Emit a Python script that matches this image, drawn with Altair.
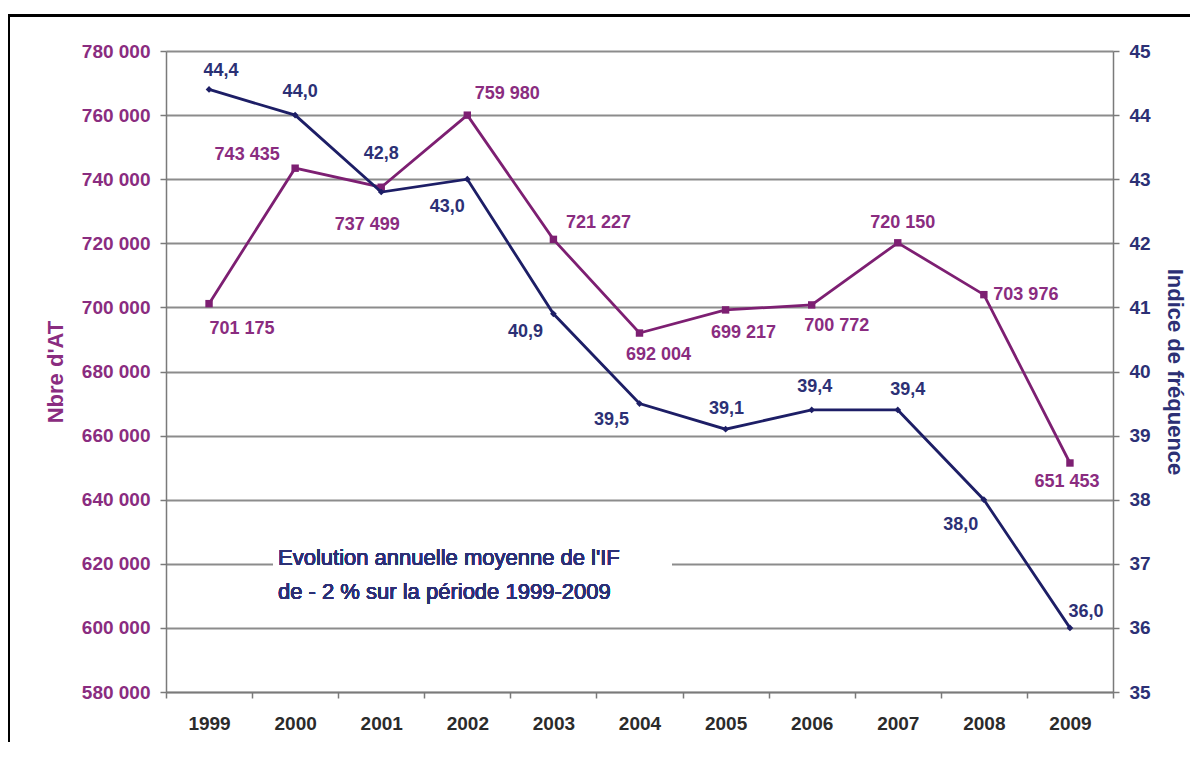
import altair as alt
import pandas as pd

# ---------------- data ----------------
years = ["1999", "2000", "2001", "2002", "2003", "2004", "2005", "2006", "2007", "2008", "2009"]
nb_at = [701175, 743435, 737499, 759980, 721227, 692004, 699217, 700772, 720150, 703976, 651453]
indice_freq = [44.4, 44.0, 42.8, 43.0, 40.9, 39.5, 39.1, 39.4, 39.4, 38.0, 36.0]
left_ticks = [580000, 600000, 620000, 640000, 660000, 680000, 700000,
              720000, 740000, 760000, 780000]
right_ticks = [35, 36, 37, 38, 39, 40, 41, 42, 43, 44, 45]
annotation_lines = ["Evolution annuelle moyenne de l'IF",
                    "de - 2 % sur la période 1999-2009"]

df = pd.DataFrame({"annee": years, "at": nb_at, "indice": indice_freq})

# ---------------- styles ----------------
PURPLE = "#7d1f72"
PURPLE_TXT = "#8a2c80"
NAVY = "#1d1e66"
NAVY_TXT = "#2c3075"
GRID = "#8c8c8c"
AXIS = "#7a7a7a"
FONT = "Liberation Sans"

# label offsets (pixels) relative to each point, per year
at_label_offsets = [(33, 25), (-48, -13), (-14, 38), (40, -21), (45, -16), (19, 22),
                    (18, 23), (25, 21), (5, -20), (42, 0), (-3, 19)]
if_label_offsets = [(12, -18), (5, -23), (0, -38), (-20, 28), (-28, 18), (-28, 16),
                    (1, -20), (3, -23), (10, -20), (-23, 25), (16, -16)]

W, H = 947, 641

x_enc = alt.X(
    "annee:O",
    sort=years,
    scale=alt.Scale(type="band", paddingInner=0, paddingOuter=0),
    axis=alt.Axis(title=None, labelAngle=0, tickBand="extent", grid=False,
                  domainColor=AXIS, domainWidth=1.5, tickColor=AXIS, tickWidth=1.5,
                  tickSize=6, labelPadding=16, labelColor="#2b2b2b", labelFontSize=19),
)

y_at = alt.Y(
    "at:Q",
    scale=alt.Scale(domain=[580000, 780000], nice=False, zero=False),
    axis=alt.Axis(values=left_ticks, format=",d", title="Nbre d'AT", orient="left",
                  titleColor=PURPLE_TXT, labelColor=PURPLE_TXT, grid=True,
                  gridColor=GRID, gridWidth=1.8, domainColor=AXIS, domainWidth=1.5,
                  tickColor=AXIS, tickWidth=1.5, tickSize=6, labelPadding=10,
                  labelFontSize=19, titleFontSize=22, titlePadding=14),
)

y_if = alt.Y(
    "indice:Q",
    scale=alt.Scale(domain=[35, 45], nice=False, zero=False),
    axis=alt.Axis(values=right_ticks, format="d", title="Indice de fréquence",
                  orient="right", titleColor=NAVY_TXT, labelColor=NAVY_TXT, grid=False,
                  domainColor=AXIS, domainWidth=1.5, tickColor=AXIS, tickWidth=1.5,
                  tickSize=6, labelPadding=10, labelFontSize=19, titleFontSize=22,
                  titlePadding=12),
)

base = alt.Chart(df)

# ---- frame & annotation (decoration) ----
frame_left = base.mark_rule(color="black", strokeWidth=2.5).encode(
    x=alt.value(-157.5), y=alt.value(-35.5), y2=alt.value(900))
frame_top = base.mark_rule(color="black", strokeWidth=2.2).encode(
    x=alt.value(-158), x2=alt.value(1200), y=alt.value(-35.5))
note_box = base.mark_rect(color="white").encode(
    x=alt.value(107), x2=alt.value(506), y=alt.value(464), y2=alt.value(556))
note_text = base.mark_text(align="left", baseline="middle", fontSize=22, font=FONT,
                           fontWeight="normal", color=NAVY_TXT, lineHeight=34).encode(
    x=alt.value(112), y=alt.value(507), text=alt.value(annotation_lines))

# ---- Nbre d'AT ----
at_line = base.mark_line(color=PURPLE, strokeWidth=2.8).encode(x=x_enc, y=y_at)
at_pts = base.mark_square(color=PURPLE, size=55, opacity=1).encode(x=x_enc, y=y_at)
at_labels = [
    base.transform_filter(alt.datum.annee == yr).mark_text(
        dx=dx, dy=dy, fontSize=18, fontWeight="bold", font=FONT, color=PURPLE_TXT,
        align="center", baseline="middle").encode(
        x=x_enc, y=y_at, text=alt.Text("at:Q", format=",d"))
    for yr, (dx, dy) in zip(years, at_label_offsets)
]
at_layer = alt.layer(frame_left, frame_top, note_box, note_text, at_line, at_pts, *at_labels)

# ---- Indice de fréquence ----
if_line = base.mark_line(color=NAVY, strokeWidth=2.8).encode(x=x_enc, y=y_if)
if_pts = base.mark_point(shape="diamond", filled=True, color=NAVY, size=45,
                         opacity=1).encode(x=x_enc, y=y_if)
if_labels = [
    base.transform_filter(alt.datum.annee == yr).mark_text(
        dx=dx, dy=dy, fontSize=18, fontWeight="bold", font=FONT, color=NAVY_TXT,
        align="center", baseline="middle").encode(
        x=x_enc, y=y_if, text=alt.Text("indice:Q", format=".1f"))
    for yr, (dx, dy) in zip(years, if_label_offsets)
]
if_layer = alt.layer(if_line, if_pts, *if_labels)

chart = (
    alt.layer(at_layer, if_layer)
    .resolve_scale(y="independent")
    .properties(
        width=W, height=H, background="white",
        autosize=alt.AutoSizeParams(type="none"),
        padding={"left": 158, "top": 43, "right": 77, "bottom": 50},
    )
    .configure(locale={"number": {"decimal": ",", "thousands": " ",
                                  "grouping": [3], "currency": ["", " €"]}})
    .configure_axis(labelFont=FONT, titleFont=FONT, labelFontWeight="bold",
                    titleFontWeight="bold")
    .configure_view(stroke=None)
)

chart.save("out.html", embed_options={"renderer": "svg", "actions": False})
